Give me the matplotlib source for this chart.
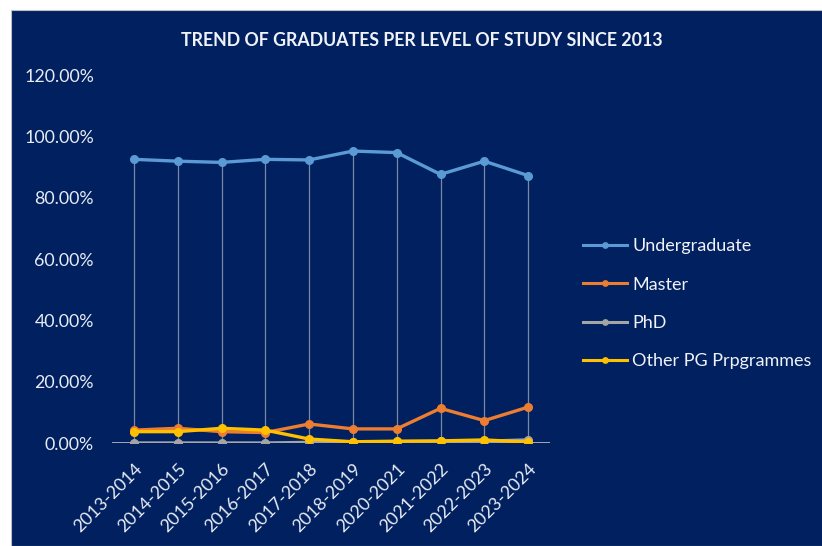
import numpy as np
from matplotlib import pyplot as plt
from matplotlib.patches import Rectangle
from matplotlib.ticker import FuncFormatter

years = ['2013-2014', '2014-2015', '2015-2016', '2016-2017', '2017-2018',
         '2018-2019', '2020-2021', '2021-2022', '2022-2023', '2023-2024']

undergrad = [92.5, 91.9, 91.5, 92.5, 92.3, 95.2, 94.7, 87.6, 91.9, 87.2]
master = [4.2, 4.8, 3.7, 3.4, 6.2, 4.6, 4.6, 11.3, 7.3, 11.7]
phd = [0.0, 0.0, 0.0, 0.0, 0.2, 0.3, 0.4, 0.5, 0.6, 1.0]
other_pg = [3.7, 3.7, 4.8, 4.2, 1.3, 0.4, 0.6, 0.7, 1.0, 0.3]

series = [
    ('Undergraduate', undergrad, '#5B9BD5'),
    ('Master', master, '#ED7D31'),
    ('PhD', phd, '#A5A5A5'),
    ('Other PG Prpgrammes', other_pg, '#FFC000'),
]

navy = '#002060'
plt.rcParams['font.family'] = ['Lato', 'DejaVu Sans']

fig = plt.figure(figsize=(8.22, 5.46), dpi=100, facecolor='white')
# chart area background, leaves a thin white margin top and left
bg = Rectangle((11 / 822, 0), 1, 1 - 10 / 546, transform=fig.transFigure,
               facecolor=navy, edgecolor='#bfbfbf', linewidth=0.8, zorder=-5)
fig.add_artist(bg)

ax = fig.add_axes([112 / 822, 103 / 546, 438 / 822, 368 / 546])
ax.set_facecolor('none')

x = np.arange(len(years))

# high-low lines
data = np.array([s[1] for s in series])
ax.vlines(x, data.min(axis=0), data.max(axis=0), color='#7a88a3', linewidth=0.9, zorder=1)

ax.axhline(0, color='#bfbfbf', linewidth=1.2, zorder=1)

for label, vals, color in series:
    ax.plot(x, vals, color=color, linewidth=2.4, marker='o', markersize=5.5,
            label=label, zorder=3)

ax.set_xlim(-0.5, len(years) - 0.5)
ax.set_ylim(0, 120)
ax.set_yticks(np.arange(0, 121, 20))
ax.yaxis.set_major_formatter(FuncFormatter(lambda v, p: f'{v:.2f}%'))
ax.set_xticks(x)
ax.set_xticklabels(years, rotation=45, ha='right', rotation_mode='anchor')

for sp in ax.spines.values():
    sp.set_visible(False)
ax.tick_params(axis='both', length=0, colors='#e8ecf4', labelsize=12.8)
ax.tick_params(axis='y', pad=13)
ax.tick_params(axis='x', pad=13)

fig.text(0.513, 1 - 40 / 546, 'TREND OF GRADUATES PER LEVEL OF STUDY SINCE 2013',
         ha='center', va='center', color='#f0f2f8', fontsize=12.8, fontweight='bold')

leg = fig.legend(loc='upper left', bbox_to_anchor=(567 / 822, 1 - 222 / 546),
                 frameon=False, fontsize=13, handlelength=2.4, labelspacing=1.24,
                 handletextpad=0.3, markerscale=0.7)
for t in leg.get_texts():
    t.set_color('#f0f2f8')
for h in leg.legend_handles:
    h.set_linewidth(2.2)

fig.savefig('out.png', dpi=100, facecolor='white')
